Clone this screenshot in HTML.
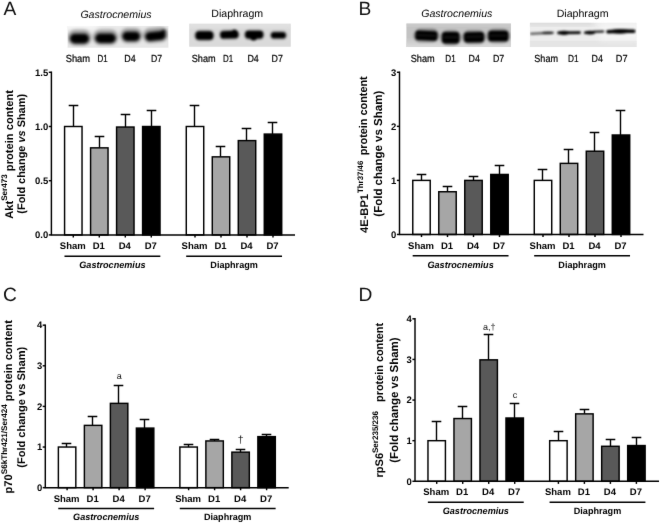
<!DOCTYPE html>
<html lang="en"><head><meta charset="utf-8"><title>Figure</title>
<style>html,body{margin:0;padding:0;background:#fff}body{width:660px;height:524px;overflow:hidden}svg{display:block}text{text-rendering:geometricPrecision;font-family:'Liberation Sans', sans-serif}</style>
</head><body>
<svg width="660" height="524" viewBox="0 0 660 524" font-family='"Liberation Sans", sans-serif'>
<defs>
<filter id="bl0" x="-20%" y="-50%" width="140%" height="200%"><feGaussianBlur stdDeviation="1.7"/></filter>
<filter id="bl1" x="-20%" y="-50%" width="140%" height="200%"><feGaussianBlur stdDeviation="1.15"/></filter>
<filter id="bl2" x="-20%" y="-50%" width="140%" height="200%"><feGaussianBlur stdDeviation="1.3"/></filter>
<filter id="bl3" x="-20%" y="-50%" width="140%" height="200%"><feGaussianBlur stdDeviation="0.9"/></filter>
<filter id="gs" x="0" y="0" width="660" height="524" filterUnits="userSpaceOnUse" color-interpolation-filters="sRGB"><feConvolveMatrix order="3" kernelMatrix="0.005 0.07 0.005 0.07 1 0.07 0.005 0.07 0.005" divisor="1.3" edgeMode="duplicate"/></filter>
<filter id="soft" x="-20%" y="-50%" width="140%" height="200%"><feGaussianBlur stdDeviation="3"/></filter>
</defs>
<rect width="660" height="524" fill="#fff"/>
<g filter="url(#gs)">
<text x="3.4" y="15.2" font-size="19.2" fill="#111">A</text>
<text x="358.5" y="15.0" font-size="19.2" fill="#111">B</text>
<text x="2.9" y="301.2" font-size="19.2" fill="#111">C</text>
<text x="358.5" y="301.2" font-size="19.2" fill="#111">D</text>
<clipPath id="cp0"><rect x="67.6" y="26.1" width="100.8" height="21.6"/></clipPath>
<g clip-path="url(#cp0)">
<rect x="65.6" y="24.1" width="104.8" height="25.6" fill="#e7e7e7"/>
<rect x="60" y="20" width="38" height="9" fill="#fafafa" filter="url(#soft)"/><rect x="100" y="19" width="75" height="6" fill="#f0f0f0" filter="url(#soft)"/>
<g filter="url(#bl0)">
<rect x="67.50" y="29.60" width="24" height="16" rx="8.00" fill="#000" opacity="0.3"/>
<rect x="92.75" y="29.40" width="25.5" height="15.6" rx="7.80" fill="#000" opacity="0.3"/>
<rect x="119.95" y="28.00" width="22.5" height="15.2" rx="7.60" fill="#000" opacity="0.3"/>
<rect x="142.75" y="27.50" width="25.5" height="15" rx="7.50" fill="#000" opacity="0.3" transform="rotate(-6 155.5 35.0)"/>
<rect x="70.00" y="33.70" width="19" height="9.8" rx="4.90" fill="#000"/>
<rect x="95.25" y="33.50" width="20.5" height="9.4" rx="4.70" fill="#000"/>
<rect x="122.45" y="31.70" width="17.5" height="9.2" rx="4.60" fill="#000"/>
<rect x="145.25" y="31.50" width="20.5" height="8.8" rx="4.40" fill="#000" transform="rotate(-6 155.5 35.9)"/>
<circle cx="163.6" cy="31.6" r="2.1" fill="#000"/>
</g></g>
<text x="116" y="18.4" font-size="10.6" font-style="italic" text-anchor="middle" fill="#000">Gastrocnemius</text>
<text x="65.7" y="61.7" font-size="10.3" textLength="24.4" lengthAdjust="spacingAndGlyphs" fill="#000" stroke="#000" stroke-width="0.2">Sham</text>
<text x="97.6" y="61.7" font-size="10.3" textLength="10.2" lengthAdjust="spacingAndGlyphs" fill="#000" stroke="#000" stroke-width="0.2">D1</text>
<text x="124.3" y="61.7" font-size="10.3" textLength="11.4" lengthAdjust="spacingAndGlyphs" fill="#000" stroke="#000" stroke-width="0.2">D4</text>
<text x="150.9" y="61.7" font-size="10.3" textLength="11.1" lengthAdjust="spacingAndGlyphs" fill="#000" stroke="#000" stroke-width="0.2">D7</text>
<clipPath id="cp1"><rect x="189.2" y="23.8" width="101.6" height="22.9"/></clipPath>
<g clip-path="url(#cp1)">
<rect x="187.2" y="21.8" width="105.6" height="26.9" fill="#dadada"/>
<rect x="185" y="21" width="110" height="5" fill="#e6e6e6" filter="url(#soft)"/>
<g filter="url(#bl1)">
<rect x="193.90" y="29.80" width="21" height="11.4" rx="5.70" fill="#000" opacity="0.25"/>
<rect x="218.90" y="29.40" width="21" height="10.4" rx="5.20" fill="#000" opacity="0.25"/>
<rect x="243.70" y="29.60" width="21" height="10.4" rx="5.20" fill="#000" opacity="0.25"/>
<rect x="269.70" y="30.70" width="17.6" height="9" rx="4.50" fill="#000" opacity="0.25"/>
<rect x="195.60" y="31.20" width="17.6" height="8.6" rx="3.60" fill="#000"/>
<rect x="220.40" y="31.00" width="18" height="7.4" rx="3.00" fill="#000" transform="rotate(-2 229.4 34.7)"/>
<rect x="245.20" y="30.80" width="18" height="7.6" rx="3.40" fill="#000"/>
<rect x="271.10" y="32.20" width="14.6" height="6.0" rx="2.80" fill="#000"/>
<ellipse cx="253.6" cy="38.6" rx="3" ry="2" fill="#000"/>
<ellipse cx="234.5" cy="31.2" rx="2.4" ry="1.6" fill="#000"/>
</g></g>
<text x="237.2" y="16.8" font-size="10.6" text-anchor="middle" fill="#000">Diaphragm</text>
<text x="191.7" y="61.7" font-size="10.3" textLength="23.9" lengthAdjust="spacingAndGlyphs" fill="#000" stroke="#000" stroke-width="0.2">Sham</text>
<text x="223.1" y="61.7" font-size="10.3" textLength="10.2" lengthAdjust="spacingAndGlyphs" fill="#000" stroke="#000" stroke-width="0.2">D1</text>
<text x="247.4" y="61.7" font-size="10.3" textLength="11.4" lengthAdjust="spacingAndGlyphs" fill="#000" stroke="#000" stroke-width="0.2">D4</text>
<text x="271.6" y="61.7" font-size="10.3" textLength="11.3" lengthAdjust="spacingAndGlyphs" fill="#000" stroke="#000" stroke-width="0.2">D7</text>
<clipPath id="cp2"><rect x="406.4" y="23.5" width="104.5" height="23.5"/></clipPath>
<g clip-path="url(#cp2)">
<rect x="404.4" y="21.5" width="108.5" height="27.5" fill="#c3c3c3"/>
<rect x="400" y="42.5" width="116" height="9" fill="#dcdcdc" filter="url(#soft)"/><rect x="400" y="18" width="116" height="6" fill="#d4d4d4" filter="url(#soft)"/>
<g filter="url(#bl2)">
<rect x="413.40" y="28.60" width="26" height="14" rx="7.00" fill="#000" opacity="0.3"/>
<rect x="440.00" y="30.10" width="21.4" height="15.4" rx="7.70" fill="#000" opacity="0.3"/>
<rect x="462.00" y="30.10" width="24" height="14.2" rx="7.10" fill="#000" opacity="0.3"/>
<rect x="486.30" y="28.70" width="24" height="14.6" rx="7.30" fill="#000" opacity="0.3"/>
<rect x="415.40" y="30.80" width="22" height="9.6" rx="3.20" fill="#000" transform="rotate(2.5 426.4 35.6)"/>
<rect x="442.00" y="32.10" width="17.4" height="11.4" rx="3.40" fill="#000"/>
<rect x="464.00" y="32.10" width="20" height="10.2" rx="3.40" fill="#000" transform="rotate(-1 474 37.2)"/>
<rect x="488.30" y="30.70" width="20" height="10.6" rx="3.40" fill="#000"/>
</g></g>
<g stroke="#fff" stroke-opacity="0.16" stroke-width="0.9" fill="none" filter="url(#bl3)"><path d="M417 35.0L436 35.9"/><path d="M443.5 37.2H458"/><path d="M465.5 36.9L482.5 36.5"/><path d="M490 35.6H506.5"/></g>
<text x="456.8" y="16.8" font-size="10.6" font-style="italic" text-anchor="middle" fill="#000">Gastrocnemius</text>
<text x="410.7" y="61.7" font-size="10.3" textLength="24.0" lengthAdjust="spacingAndGlyphs" fill="#000" stroke="#000" stroke-width="0.2">Sham</text>
<text x="445.3" y="61.7" font-size="10.3" textLength="10.4" lengthAdjust="spacingAndGlyphs" fill="#000" stroke="#000" stroke-width="0.2">D1</text>
<text x="468.5" y="61.7" font-size="10.3" textLength="11.3" lengthAdjust="spacingAndGlyphs" fill="#000" stroke="#000" stroke-width="0.2">D4</text>
<text x="492.9" y="61.7" font-size="10.3" textLength="11.3" lengthAdjust="spacingAndGlyphs" fill="#000" stroke="#000" stroke-width="0.2">D7</text>
<clipPath id="cp3"><rect x="529.9" y="22.7" width="106.6" height="24.2"/></clipPath>
<g clip-path="url(#cp3)">
<rect x="527.9" y="20.7" width="110.6" height="28.2" fill="#ededed"/>
<rect x="528" y="40.8" width="110" height="8" fill="#e5e5e5"/><rect x="524" y="19.5" width="70" height="5" fill="#cfcfcf" filter="url(#soft)"/><rect x="600" y="24" width="40" height="16" fill="#f6f6f6" filter="url(#soft)"/>
<g filter="url(#bl3)">
<path d="M531 33.7 L553 32.8" stroke="#000" stroke-opacity="0.7" stroke-width="2.0" fill="none" stroke-linecap="round"/>
<ellipse cx="547.5" cy="32.9" rx="5.5" ry="1.35" fill="#000" opacity="0.7"/>
<path d="M558.5 32.9 L579.5 32.6" stroke="#000" stroke-width="2.7" fill="none" stroke-linecap="round"/>
<ellipse cx="564" cy="32.8" rx="5.5" ry="2.1" fill="#000"/>
<path d="M584.8 32.7 Q594 31.6 603.3 31.6" stroke="#000" stroke-width="2.0" fill="none" stroke-linecap="round"/>
<ellipse cx="590" cy="32.6" rx="5.2" ry="1.9" fill="#000"/>
<path d="M608 31.7 Q620 30.8 633.8 31.3" stroke="#000" stroke-width="3.6" fill="none" stroke-linecap="round"/>
<ellipse cx="620" cy="31.4" rx="10" ry="2.3" fill="#000"/>
</g></g>
<text x="582.6" y="16.8" font-size="10.6" text-anchor="middle" fill="#000">Diaphragm</text>
<text x="534.3" y="61.7" font-size="10.3" textLength="23.7" lengthAdjust="spacingAndGlyphs" fill="#000" stroke="#000" stroke-width="0.2">Sham</text>
<text x="568.0" y="61.7" font-size="10.3" textLength="10.6" lengthAdjust="spacingAndGlyphs" fill="#000" stroke="#000" stroke-width="0.2">D1</text>
<text x="591.6" y="61.7" font-size="10.3" textLength="11.3" lengthAdjust="spacingAndGlyphs" fill="#000" stroke="#000" stroke-width="0.2">D4</text>
<text x="615.8" y="61.7" font-size="10.3" textLength="11.7" lengthAdjust="spacingAndGlyphs" fill="#000" stroke="#000" stroke-width="0.2">D7</text>
<path d="M48.8 234.90H51.4" stroke="#000" stroke-width="1.45"/>
<text transform="translate(48.30 238.20) scale(1 1.0)" font-size="9.5" font-weight="bold" text-anchor="end">0.0</text>
<path d="M48.8 180.70H51.4" stroke="#000" stroke-width="1.45"/>
<text transform="translate(48.30 184.00) scale(1 1.0)" font-size="9.5" font-weight="bold" text-anchor="end">0.5</text>
<path d="M48.8 126.50H51.4" stroke="#000" stroke-width="1.45"/>
<text transform="translate(48.30 129.80) scale(1 1.0)" font-size="9.5" font-weight="bold" text-anchor="end">1.0</text>
<path d="M48.8 72.30H51.4" stroke="#000" stroke-width="1.45"/>
<text transform="translate(48.30 75.60) scale(1 1.0)" font-size="9.5" font-weight="bold" text-anchor="end">1.5</text>
<path d="M73.50 126.50V105.50M68.70 105.50H78.30" stroke="#000" stroke-width="1.4" fill="none"/>
<rect x="64.58" y="126.50" width="17.45" height="108.40" fill="#ffffff" stroke="#000" stroke-width="1.45"/>
<path d="M73.30 234.9V237.5" stroke="#000" stroke-width="1.45"/>
<text transform="translate(72.80 248.6) scale(1 1.0)" font-size="9.5" font-weight="bold" text-anchor="middle">Sham</text>
<path d="M99.50 147.85V136.50M94.70 136.50H104.30" stroke="#000" stroke-width="1.4" fill="none"/>
<rect x="90.58" y="147.85" width="17.45" height="87.05" fill="#a6a6a6" stroke="#000" stroke-width="1.45"/>
<path d="M99.30 234.9V237.5" stroke="#000" stroke-width="1.45"/>
<text transform="translate(98.80 248.6) scale(1 1.0)" font-size="9.5" font-weight="bold" text-anchor="middle">D1</text>
<path d="M125.50 127.04V114.50M120.70 114.50H130.30" stroke="#000" stroke-width="1.4" fill="none"/>
<rect x="116.58" y="127.04" width="17.45" height="107.86" fill="#595959" stroke="#000" stroke-width="1.45"/>
<path d="M125.30 234.9V237.5" stroke="#000" stroke-width="1.45"/>
<text transform="translate(124.80 248.6) scale(1 1.0)" font-size="9.5" font-weight="bold" text-anchor="middle">D4</text>
<path d="M151.50 126.50V110.50M146.70 110.50H156.30" stroke="#000" stroke-width="1.4" fill="none"/>
<rect x="142.58" y="126.50" width="17.45" height="108.40" fill="#000000" stroke="#000" stroke-width="1.45"/>
<path d="M151.30 234.9V237.5" stroke="#000" stroke-width="1.45"/>
<text transform="translate(150.80 248.6) scale(1 1.0)" font-size="9.5" font-weight="bold" text-anchor="middle">D7</text>
<path d="M194.50 126.50V105.50M189.70 105.50H199.30" stroke="#000" stroke-width="1.4" fill="none"/>
<rect x="186.28" y="126.50" width="17.45" height="108.40" fill="#ffffff" stroke="#000" stroke-width="1.45"/>
<path d="M195.00 234.9V237.5" stroke="#000" stroke-width="1.45"/>
<text transform="translate(194.50 248.6) scale(1 1.0)" font-size="9.5" font-weight="bold" text-anchor="middle">Sham</text>
<path d="M220.50 156.85V146.50M215.70 146.50H225.30" stroke="#000" stroke-width="1.4" fill="none"/>
<rect x="212.28" y="156.85" width="17.45" height="78.05" fill="#a6a6a6" stroke="#000" stroke-width="1.45"/>
<path d="M221.00 234.9V237.5" stroke="#000" stroke-width="1.45"/>
<text transform="translate(220.50 248.6) scale(1 1.0)" font-size="9.5" font-weight="bold" text-anchor="middle">D1</text>
<path d="M246.50 140.59V128.50M241.70 128.50H251.30" stroke="#000" stroke-width="1.4" fill="none"/>
<rect x="238.28" y="140.59" width="17.45" height="94.31" fill="#595959" stroke="#000" stroke-width="1.45"/>
<path d="M247.00 234.9V237.5" stroke="#000" stroke-width="1.45"/>
<text transform="translate(246.50 248.6) scale(1 1.0)" font-size="9.5" font-weight="bold" text-anchor="middle">D4</text>
<path d="M272.50 134.09V122.50M267.70 122.50H277.30" stroke="#000" stroke-width="1.4" fill="none"/>
<rect x="264.27" y="134.09" width="17.45" height="100.81" fill="#000000" stroke="#000" stroke-width="1.45"/>
<path d="M273.00 234.9V237.5" stroke="#000" stroke-width="1.45"/>
<text transform="translate(272.50 248.6) scale(1 1.0)" font-size="9.5" font-weight="bold" text-anchor="middle">D7</text>
<path d="M51.4 71.58V234.9H295.0" fill="none" stroke="#000" stroke-width="1.45"/>
<path d="M64.48 256.3H160.33" stroke="#000" stroke-width="1.45"/>
<text transform="translate(112.40 267.9) scale(1 1.02)" font-size="9.1" font-weight="bold" font-style="italic" text-anchor="middle">Gastrocnemius</text>
<path d="M186.18 256.3H282.03" stroke="#000" stroke-width="1.45"/>
<text transform="translate(234.10 267.9) scale(1 1.02)" font-size="9.1" font-weight="bold" text-anchor="middle">Diaphragm</text>
<text transform="translate(12.5 154.4) rotate(-90)" font-size="11.15" font-weight="bold" text-anchor="middle">Akt<tspan font-size="8.1" dy="-5.7">Ser473</tspan><tspan dy="5.7"> protein content</tspan></text>
<text transform="translate(25.3 153.8) rotate(-90)" font-size="10.95" font-weight="bold" text-anchor="middle">(Fold change <tspan font-style="italic">vs</tspan> Sham)</text>
<path d="M396.9 234.45H399.5" stroke="#000" stroke-width="1.45"/>
<text transform="translate(396.40 237.75) scale(1 1.0)" font-size="9.5" font-weight="bold" text-anchor="end">0</text>
<path d="M396.9 180.40H399.5" stroke="#000" stroke-width="1.45"/>
<text transform="translate(396.40 183.70) scale(1 1.0)" font-size="9.5" font-weight="bold" text-anchor="end">1</text>
<path d="M396.9 126.35H399.5" stroke="#000" stroke-width="1.45"/>
<text transform="translate(396.40 129.65) scale(1 1.0)" font-size="9.5" font-weight="bold" text-anchor="end">2</text>
<path d="M396.9 72.30H399.5" stroke="#000" stroke-width="1.45"/>
<text transform="translate(396.40 75.60) scale(1 1.0)" font-size="9.5" font-weight="bold" text-anchor="end">3</text>
<path d="M421.50 180.40V174.50M416.70 174.50H426.30" stroke="#000" stroke-width="1.4" fill="none"/>
<rect x="412.77" y="180.40" width="17.45" height="54.05" fill="#ffffff" stroke="#000" stroke-width="1.45"/>
<path d="M421.50 234.45V237.04999999999998" stroke="#000" stroke-width="1.45"/>
<text transform="translate(421.00 249.0) scale(1 1.0)" font-size="9.5" font-weight="bold" text-anchor="middle">Sham</text>
<path d="M447.50 191.75V186.50M442.70 186.50H452.30" stroke="#000" stroke-width="1.4" fill="none"/>
<rect x="438.77" y="191.75" width="17.45" height="42.70" fill="#a6a6a6" stroke="#000" stroke-width="1.45"/>
<path d="M447.50 234.45V237.04999999999998" stroke="#000" stroke-width="1.45"/>
<text transform="translate(447.00 249.0) scale(1 1.0)" font-size="9.5" font-weight="bold" text-anchor="middle">D1</text>
<path d="M473.50 180.40V176.50M468.70 176.50H478.30" stroke="#000" stroke-width="1.4" fill="none"/>
<rect x="464.77" y="180.40" width="17.45" height="54.05" fill="#595959" stroke="#000" stroke-width="1.45"/>
<path d="M473.50 234.45V237.04999999999998" stroke="#000" stroke-width="1.45"/>
<text transform="translate(473.00 249.0) scale(1 1.0)" font-size="9.5" font-weight="bold" text-anchor="middle">D4</text>
<path d="M499.50 174.45V165.50M494.70 165.50H504.30" stroke="#000" stroke-width="1.4" fill="none"/>
<rect x="490.77" y="174.45" width="17.45" height="60.00" fill="#000000" stroke="#000" stroke-width="1.45"/>
<path d="M499.50 234.45V237.04999999999998" stroke="#000" stroke-width="1.45"/>
<text transform="translate(499.00 249.0) scale(1 1.0)" font-size="9.5" font-weight="bold" text-anchor="middle">D7</text>
<path d="M542.50 180.40V169.50M537.70 169.50H547.30" stroke="#000" stroke-width="1.4" fill="none"/>
<rect x="534.27" y="180.40" width="17.45" height="54.05" fill="#ffffff" stroke="#000" stroke-width="1.45"/>
<path d="M543.00 234.45V237.04999999999998" stroke="#000" stroke-width="1.45"/>
<text transform="translate(542.50 249.0) scale(1 1.0)" font-size="9.5" font-weight="bold" text-anchor="middle">Sham</text>
<path d="M568.50 163.37V149.50M563.70 149.50H573.30" stroke="#000" stroke-width="1.4" fill="none"/>
<rect x="560.27" y="163.37" width="17.45" height="71.08" fill="#a6a6a6" stroke="#000" stroke-width="1.45"/>
<path d="M569.00 234.45V237.04999999999998" stroke="#000" stroke-width="1.45"/>
<text transform="translate(568.50 249.0) scale(1 1.0)" font-size="9.5" font-weight="bold" text-anchor="middle">D1</text>
<path d="M594.50 151.21V132.50M589.70 132.50H599.30" stroke="#000" stroke-width="1.4" fill="none"/>
<rect x="586.27" y="151.21" width="17.45" height="83.24" fill="#595959" stroke="#000" stroke-width="1.45"/>
<path d="M595.00 234.45V237.04999999999998" stroke="#000" stroke-width="1.45"/>
<text transform="translate(594.50 249.0) scale(1 1.0)" font-size="9.5" font-weight="bold" text-anchor="middle">D4</text>
<path d="M620.50 135.00V110.50M615.70 110.50H625.30" stroke="#000" stroke-width="1.4" fill="none"/>
<rect x="612.27" y="135.00" width="17.45" height="99.45" fill="#000000" stroke="#000" stroke-width="1.45"/>
<path d="M621.00 234.45V237.04999999999998" stroke="#000" stroke-width="1.45"/>
<text transform="translate(620.50 249.0) scale(1 1.0)" font-size="9.5" font-weight="bold" text-anchor="middle">D7</text>
<path d="M399.5 71.58V234.45H643.5" fill="none" stroke="#000" stroke-width="1.45"/>
<path d="M412.67 255.8H508.53" stroke="#000" stroke-width="1.45"/>
<text transform="translate(460.60 267.8) scale(1 1.02)" font-size="9.1" font-weight="bold" font-style="italic" text-anchor="middle">Gastrocnemius</text>
<path d="M534.17 255.8H630.02" stroke="#000" stroke-width="1.45"/>
<text transform="translate(582.10 267.8) scale(1 1.02)" font-size="9.1" font-weight="bold" text-anchor="middle">Diaphragm</text>
<text transform="translate(368 233.0) rotate(-90) scale(1 1)" font-size="11.15" font-weight="bold">4E-BP1</text>
<text transform="translate(362.5 193.0) rotate(-90) scale(1 1)" font-size="7.9" font-weight="bold" textLength="32.3" lengthAdjust="spacingAndGlyphs">Thr37/46</text>
<text transform="translate(367.3 155.3) rotate(-90) scale(1 1)" font-size="11.2" font-weight="bold" textLength="79" lengthAdjust="spacingAndGlyphs">protein content</text>
<text transform="translate(382.3 216.7) rotate(-90) scale(1 1)" font-size="11.6" font-weight="bold" textLength="126.0" lengthAdjust="spacingAndGlyphs">(Fold change vs Sham)</text>
<path d="M42.699999999999996 487.65H45.3" stroke="#000" stroke-width="1.45"/>
<text transform="translate(42.20 490.95) scale(1 1.0)" font-size="9.5" font-weight="bold" text-anchor="end">0</text>
<path d="M42.699999999999996 447.03H45.3" stroke="#000" stroke-width="1.45"/>
<text transform="translate(42.20 450.33) scale(1 1.0)" font-size="9.5" font-weight="bold" text-anchor="end">1</text>
<path d="M42.699999999999996 406.41H45.3" stroke="#000" stroke-width="1.45"/>
<text transform="translate(42.20 409.71) scale(1 1.0)" font-size="9.5" font-weight="bold" text-anchor="end">2</text>
<path d="M42.699999999999996 365.79H45.3" stroke="#000" stroke-width="1.45"/>
<text transform="translate(42.20 369.09) scale(1 1.0)" font-size="9.5" font-weight="bold" text-anchor="end">3</text>
<path d="M42.699999999999996 325.17H45.3" stroke="#000" stroke-width="1.45"/>
<text transform="translate(42.20 328.47) scale(1 1.0)" font-size="9.5" font-weight="bold" text-anchor="end">4</text>
<path d="M66.50 447.03V443.50M61.70 443.50H71.30" stroke="#000" stroke-width="1.4" fill="none"/>
<rect x="58.37" y="447.03" width="17.45" height="40.62" fill="#ffffff" stroke="#000" stroke-width="1.45"/>
<path d="M67.10 487.65V490.25" stroke="#000" stroke-width="1.45"/>
<text transform="translate(66.60 501.9) scale(1 1.0)" font-size="9.5" font-weight="bold" text-anchor="middle">Sham</text>
<path d="M92.50 425.38V416.50M87.70 416.50H97.30" stroke="#000" stroke-width="1.4" fill="none"/>
<rect x="84.38" y="425.38" width="17.45" height="62.27" fill="#a6a6a6" stroke="#000" stroke-width="1.45"/>
<path d="M93.10 487.65V490.25" stroke="#000" stroke-width="1.45"/>
<text transform="translate(92.60 501.9) scale(1 1.0)" font-size="9.5" font-weight="bold" text-anchor="middle">D1</text>
<path d="M118.50 403.36V385.50M113.70 385.50H123.30" stroke="#000" stroke-width="1.4" fill="none"/>
<rect x="110.38" y="403.36" width="17.45" height="84.29" fill="#595959" stroke="#000" stroke-width="1.45"/>
<path d="M119.10 487.65V490.25" stroke="#000" stroke-width="1.45"/>
<text transform="translate(118.60 501.9) scale(1 1.0)" font-size="9.5" font-weight="bold" text-anchor="middle">D4</text>
<path d="M144.50 428.10V419.50M139.70 419.50H149.30" stroke="#000" stroke-width="1.4" fill="none"/>
<rect x="136.38" y="428.10" width="17.45" height="59.55" fill="#000000" stroke="#000" stroke-width="1.45"/>
<path d="M145.10 487.65V490.25" stroke="#000" stroke-width="1.45"/>
<text transform="translate(144.60 501.9) scale(1 1.0)" font-size="9.5" font-weight="bold" text-anchor="middle">D7</text>
<path d="M188.50 447.03V444.50M183.70 444.50H193.30" stroke="#000" stroke-width="1.4" fill="none"/>
<rect x="179.88" y="447.03" width="17.45" height="40.62" fill="#ffffff" stroke="#000" stroke-width="1.45"/>
<path d="M188.60 487.65V490.25" stroke="#000" stroke-width="1.45"/>
<text transform="translate(188.10 501.9) scale(1 1.0)" font-size="9.5" font-weight="bold" text-anchor="middle">Sham</text>
<path d="M214.50 440.94V439.50M209.70 439.50H219.30" stroke="#000" stroke-width="1.4" fill="none"/>
<rect x="205.88" y="440.94" width="17.45" height="46.71" fill="#a6a6a6" stroke="#000" stroke-width="1.45"/>
<path d="M214.60 487.65V490.25" stroke="#000" stroke-width="1.45"/>
<text transform="translate(214.10 501.9) scale(1 1.0)" font-size="9.5" font-weight="bold" text-anchor="middle">D1</text>
<path d="M240.50 452.15V449.50M235.70 449.50H245.30" stroke="#000" stroke-width="1.4" fill="none"/>
<rect x="231.88" y="452.15" width="17.45" height="35.50" fill="#595959" stroke="#000" stroke-width="1.45"/>
<path d="M240.60 487.65V490.25" stroke="#000" stroke-width="1.45"/>
<text transform="translate(240.10 501.9) scale(1 1.0)" font-size="9.5" font-weight="bold" text-anchor="middle">D4</text>
<path d="M266.50 436.63V434.50M261.70 434.50H271.30" stroke="#000" stroke-width="1.4" fill="none"/>
<rect x="257.88" y="436.63" width="17.45" height="51.02" fill="#000000" stroke="#000" stroke-width="1.45"/>
<path d="M266.60 487.65V490.25" stroke="#000" stroke-width="1.45"/>
<text transform="translate(266.10 501.9) scale(1 1.0)" font-size="9.5" font-weight="bold" text-anchor="middle">D7</text>
<path d="M45.3 324.44V487.65H288.7" fill="none" stroke="#000" stroke-width="1.45"/>
<path d="M58.27 508.5H154.12" stroke="#000" stroke-width="1.45"/>
<text transform="translate(106.20 519.9) scale(1 1.02)" font-size="9.1" font-weight="bold" font-style="italic" text-anchor="middle">Gastrocnemius</text>
<path d="M179.78 508.5H275.63" stroke="#000" stroke-width="1.45"/>
<text transform="translate(227.70 519.9) scale(1 1.02)" font-size="9.1" font-weight="bold" text-anchor="middle">Diaphragm</text>
<text transform="translate(12.0 406.8) rotate(-90)" font-size="11.15" font-weight="bold" text-anchor="middle">p70<tspan font-size="8.15" dy="-5.0">S6kThr421/Ser424</tspan><tspan dy="5.0"> protein content</tspan></text>
<text transform="translate(25.2 407.3) rotate(-90)" font-size="11.05" font-weight="bold" text-anchor="middle">(Fold change <tspan font-style="normal">vs</tspan> Sham)</text>
<text transform="translate(119.3 378.6) scale(1 1)" font-size="9.0" text-anchor="middle" fill="#111">a</text>
<text transform="translate(240.6 443.4) scale(1 1)" font-size="10.4" text-anchor="middle" fill="#111">†</text>
<path d="M412.4 481.30H415.0" stroke="#000" stroke-width="1.45"/>
<text transform="translate(411.90 484.60) scale(1 1.0)" font-size="9.5" font-weight="bold" text-anchor="end">0</text>
<path d="M412.4 440.68H415.0" stroke="#000" stroke-width="1.45"/>
<text transform="translate(411.90 443.98) scale(1 1.0)" font-size="9.5" font-weight="bold" text-anchor="end">1</text>
<path d="M412.4 400.06H415.0" stroke="#000" stroke-width="1.45"/>
<text transform="translate(411.90 403.36) scale(1 1.0)" font-size="9.5" font-weight="bold" text-anchor="end">2</text>
<path d="M412.4 359.44H415.0" stroke="#000" stroke-width="1.45"/>
<text transform="translate(411.90 362.74) scale(1 1.0)" font-size="9.5" font-weight="bold" text-anchor="end">3</text>
<path d="M412.4 318.82H415.0" stroke="#000" stroke-width="1.45"/>
<text transform="translate(411.90 322.12) scale(1 1.0)" font-size="9.5" font-weight="bold" text-anchor="end">4</text>
<path d="M436.50 440.68V421.50M431.70 421.50H441.30" stroke="#000" stroke-width="1.4" fill="none"/>
<rect x="427.97" y="440.68" width="17.45" height="40.62" fill="#ffffff" stroke="#000" stroke-width="1.45"/>
<path d="M436.70 481.3V483.90000000000003" stroke="#000" stroke-width="1.45"/>
<text transform="translate(436.20 495.4) scale(1 1.0)" font-size="9.5" font-weight="bold" text-anchor="middle">Sham</text>
<path d="M462.50 418.54V406.50M457.70 406.50H467.30" stroke="#000" stroke-width="1.4" fill="none"/>
<rect x="453.97" y="418.54" width="17.45" height="62.76" fill="#a6a6a6" stroke="#000" stroke-width="1.45"/>
<path d="M462.70 481.3V483.90000000000003" stroke="#000" stroke-width="1.45"/>
<text transform="translate(462.20 495.4) scale(1 1.0)" font-size="9.5" font-weight="bold" text-anchor="middle">D1</text>
<path d="M488.50 359.85V334.50M483.70 334.50H493.30" stroke="#000" stroke-width="1.4" fill="none"/>
<rect x="479.97" y="359.85" width="17.45" height="121.45" fill="#595959" stroke="#000" stroke-width="1.45"/>
<path d="M488.70 481.3V483.90000000000003" stroke="#000" stroke-width="1.45"/>
<text transform="translate(488.20 495.4) scale(1 1.0)" font-size="9.5" font-weight="bold" text-anchor="middle">D4</text>
<path d="M514.50 418.01V403.50M509.70 403.50H519.30" stroke="#000" stroke-width="1.4" fill="none"/>
<rect x="505.98" y="418.01" width="17.45" height="63.29" fill="#000000" stroke="#000" stroke-width="1.45"/>
<path d="M514.70 481.3V483.90000000000003" stroke="#000" stroke-width="1.45"/>
<text transform="translate(514.20 495.4) scale(1 1.0)" font-size="9.5" font-weight="bold" text-anchor="middle">D7</text>
<path d="M558.50 440.68V431.50M553.70 431.50H563.30" stroke="#000" stroke-width="1.4" fill="none"/>
<rect x="549.67" y="440.68" width="17.45" height="40.62" fill="#ffffff" stroke="#000" stroke-width="1.45"/>
<path d="M558.40 481.3V483.90000000000003" stroke="#000" stroke-width="1.45"/>
<text transform="translate(557.90 495.4) scale(1 1.0)" font-size="9.5" font-weight="bold" text-anchor="middle">Sham</text>
<path d="M584.50 413.87V409.50M579.70 409.50H589.30" stroke="#000" stroke-width="1.4" fill="none"/>
<rect x="575.67" y="413.87" width="17.45" height="67.43" fill="#a6a6a6" stroke="#000" stroke-width="1.45"/>
<path d="M584.40 481.3V483.90000000000003" stroke="#000" stroke-width="1.45"/>
<text transform="translate(583.90 495.4) scale(1 1.0)" font-size="9.5" font-weight="bold" text-anchor="middle">D1</text>
<path d="M610.50 446.29V439.50M605.70 439.50H615.30" stroke="#000" stroke-width="1.4" fill="none"/>
<rect x="601.67" y="446.29" width="17.45" height="35.01" fill="#595959" stroke="#000" stroke-width="1.45"/>
<path d="M610.40 481.3V483.90000000000003" stroke="#000" stroke-width="1.45"/>
<text transform="translate(609.90 495.4) scale(1 1.0)" font-size="9.5" font-weight="bold" text-anchor="middle">D4</text>
<path d="M636.50 445.55V437.50M631.70 437.50H641.30" stroke="#000" stroke-width="1.4" fill="none"/>
<rect x="627.67" y="445.55" width="17.45" height="35.75" fill="#000000" stroke="#000" stroke-width="1.45"/>
<path d="M636.40 481.3V483.90000000000003" stroke="#000" stroke-width="1.45"/>
<text transform="translate(635.90 495.4) scale(1 1.0)" font-size="9.5" font-weight="bold" text-anchor="middle">D7</text>
<path d="M415.0 318.07V481.3H659" fill="none" stroke="#000" stroke-width="1.45"/>
<path d="M427.87 502.2H523.73" stroke="#000" stroke-width="1.45"/>
<text transform="translate(475.80 513.9) scale(1 1.02)" font-size="9.1" font-weight="bold" font-style="italic" text-anchor="middle">Gastrocnemius</text>
<path d="M549.57 502.2H645.42" stroke="#000" stroke-width="1.45"/>
<text transform="translate(597.50 513.9) scale(1 1.02)" font-size="9.1" font-weight="bold" text-anchor="middle">Diaphragm</text>
<text transform="translate(383.4 477.5) rotate(-90) scale(1 1)" font-size="11.1" font-weight="bold">rpS6</text>
<text transform="translate(378.0 453.0) rotate(-90) scale(1 1)" font-size="8.0" font-weight="bold" textLength="42" lengthAdjust="spacingAndGlyphs">Ser235/236</text>
<text transform="translate(382.6 401.9) rotate(-90) scale(1 1)" font-size="11.2" font-weight="bold" textLength="79" lengthAdjust="spacingAndGlyphs">protein content</text>
<text transform="translate(397.5 462.8) rotate(-90) scale(1 1)" font-size="11.6" font-weight="bold" textLength="125.3" lengthAdjust="spacingAndGlyphs">(Fold change vs Sham)</text>
<text transform="translate(489.3 330.1) scale(1 1)" font-size="9.0" text-anchor="middle" fill="#111">a,†</text>
<text transform="translate(515.1 398.3) scale(1 1)" font-size="9.0" text-anchor="middle" fill="#111">c</text>
</g>
</svg></body></html>
